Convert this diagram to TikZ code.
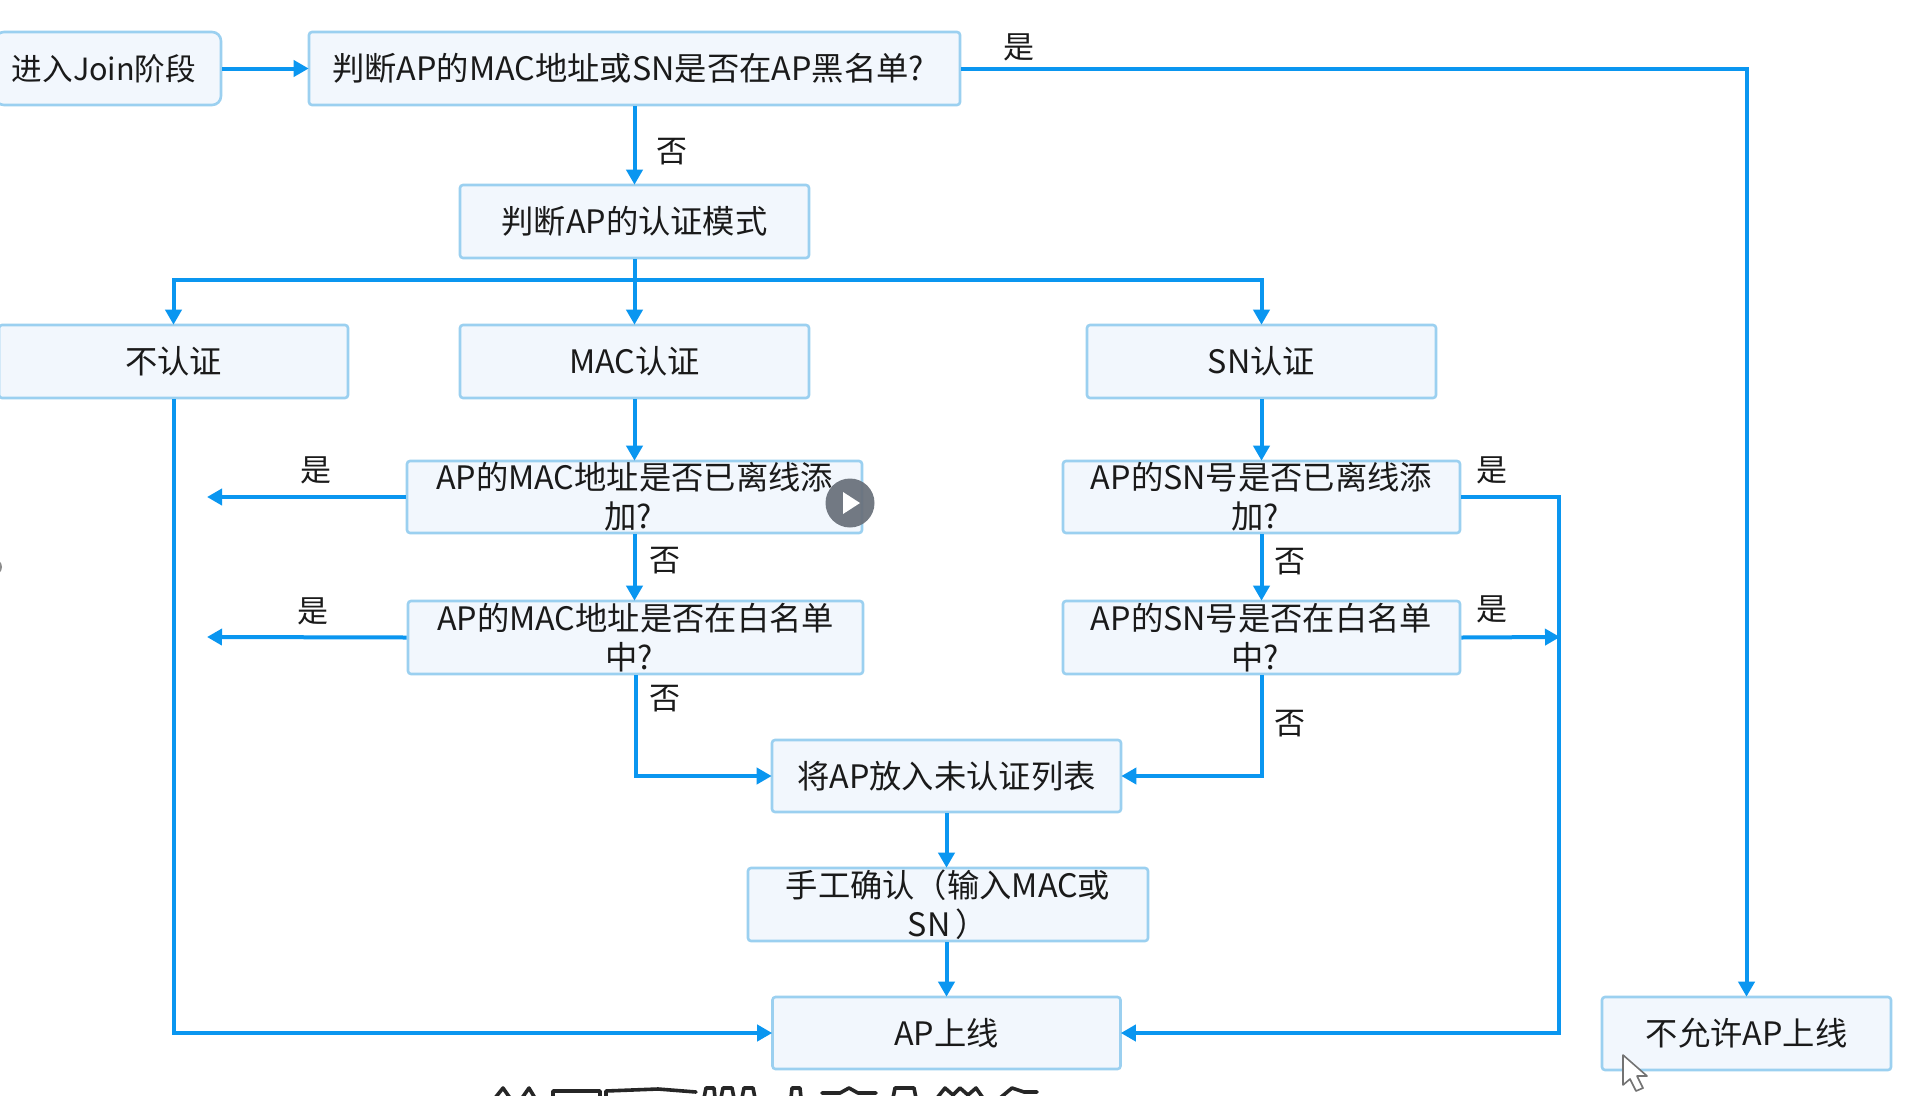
\documentclass[tikz,border=0pt]{standalone}
\usepackage{fontspec}
\setmainfont{Noto Sans CJK SC}
\usetikzlibrary{arrows.meta}
\definecolor{linec}{HTML}{0A96F0}
\definecolor{edgec}{HTML}{9BD0F0}
\definecolor{fillc}{HTML}{F2F7FD}
\definecolor{inkc}{HTML}{1A1A1A}
\definecolor{playc}{HTML}{69707A}
\newcommand{\qpad}{\hspace*{13pt}}
\tikzset{
  x=1pt,y=-1pt,
  box/.style={draw=edgec,fill=fillc,line width=2.6pt,rounded corners=3pt,inner sep=0pt,align=center,
    text=inkc,font=\fontsize{32.3}{39}\selectfont},
  joinbox/.style={box,rounded corners=9pt,font=\fontsize{30.6}{39}\selectfont},
  conn/.style={draw=linec,line width=4pt},
  arr/.style={conn,-{Triangle[length=15pt,width=16pt]},shorten >=-1pt},
  lab/.style={text=inkc,font=\fontsize{31}{36}\selectfont,inner sep=0pt},
}
\begin{document}
\begin{tikzpicture}
\path[use as bounding box] (0,0) rectangle (1911,1095);
\clip (0,0) rectangle (1911,1095);
\fill[white] (0,0) rectangle (1911,1095);
% boxes
\node[joinbox,minimum width=226pt,minimum height=73pt] (join) at (108,68.5) {进入Join阶段\hspace*{8pt}};
\node[box,minimum width=651pt,minimum height=73pt] (black) at (634.5,68.5) {判断AP的MAC地址或SN是否在AP黑名单?\qpad};
\node[box,minimum width=349pt,minimum height=73pt] (mode) at (634.5,221.5) {判断AP的认证模式};
\node[box,minimum width=349pt,minimum height=73pt] (noauth) at (173.5,361.5) {不认证};
\node[box,minimum width=349pt,minimum height=73pt] (mac) at (634.5,361.5) {MAC认证};
\node[box,minimum width=349pt,minimum height=73pt] (sn) at (1261.5,361.5) {SN认证};
\node[box,minimum width=455pt,minimum height=72pt] (mac1) at (634.5,497) {AP的MAC地址是否已离线添\\加?\qpad};
\node[box,minimum width=455pt,minimum height=73pt] (mac2) at (635.5,637.5) {AP的MAC地址是否在白名单\\中?\qpad};
\node[box,minimum width=397pt,minimum height=72pt] (sn1) at (1261.5,497) {AP的SN号是否已离线添\\加?\qpad};
\node[box,minimum width=397pt,minimum height=73pt] (sn2) at (1261.5,637.5) {AP的SN号是否在白名单\\中?\qpad};
\node[box,minimum width=349pt,minimum height=72pt] (unauth) at (946.5,776) {将AP放入未认证列表};
\node[box,minimum width=400pt,minimum height=73pt] (manual) at (948,904.5) {手工确认（输入MAC或\\SN\,）};
\node[box,minimum width=348pt,minimum height=72pt] (online) at (946.5,1033) {AP上线};
\node[box,minimum width=289pt,minimum height=73pt] (deny) at (1746.5,1033.5) {不允许AP上线};
% free ends
\coordinate (bus) at (634.5,280);
\coordinate (macyes1) at (208,497);
\coordinate (macyes2) at (208,637);
\coordinate (railtop) at (1559,497);
\coordinate (railmid) at (1559,637);
\coordinate (railbot) at (1559,1033);
% connectors
\draw[arr] (join.east) -- (black.west);
\draw[arr] (black.south) -- (mode.north);
\draw[arr] (black.east) -| (deny.north);
\draw[conn] (mode.south) -- (bus);
\draw[arr] (bus) -| (noauth.north);
\draw[arr] (bus) -- (mac.north);
\draw[arr] (bus) -| (sn.north);
\draw[arr] (mac.south) -- (mac1.north);
\draw[arr] (sn.south) -- (sn1.north);
\draw[arr] (mac1.south) -- (mac1.south |- mac2.north);
\draw[arr] (sn1.south) -- (sn2.north);
\draw[arr] (mac1.west) -- (macyes1);
\draw[arr] (mac2.west) -- (macyes2);
\draw[arr] (mac2.south) |- (unauth.west);
\draw[arr] (sn2.south) |- (unauth.east);
\draw[arr] (unauth.south) -- (unauth.south |- manual.north);
\draw[arr] (manual.south -| online.north) -- (online.north);
\draw[arr] (noauth.south) |- (online.west);
\draw[arr] (sn1.east) -- (railtop) -- (railbot) -- (online.east);
\draw[arr] (sn2.east) -- (railmid);
% labels
\node[lab] (l1) at (1019,47) {是};
\node[lab] (l2) at (672,152) {否};
\node[lab] (l3) at (316,470) {是};
\node[lab] (l4) at (665,561) {否};
\node[lab] (l5) at (313,611) {是};
\node[lab] (l6) at (665,699) {否};
\node[lab] (l7) at (1492,470) {是};
\node[lab] (l8) at (1290,562) {否};
\node[lab] (l9) at (1492,609) {是};
\node[lab] (l10) at (1290,724) {否};
% overlay marks of the video player
\fill[playc,opacity=.93] (850,503) circle (24.5);
\fill[white] (843,492) -- (860,503) -- (843,514) -- cycle;
\fill[black!45] (-6,567) circle (8);
\draw[black!55,fill=white,line width=1.6pt,line join=round] (1623,1055) -- (1623,1085) -- (1630,1079) -- (1636,1091) -- (1643,1088) -- (1637,1076) -- (1647,1076) -- cycle;
% cropped tops of the caption at the lower edge
\draw[black!85,line width=3.6pt,line cap=round,line join=round]
  (495,1098) -- (503,1088) -- (510,1098)
  (522,1098) -- (529,1088) -- (535,1098)
  (553,1098) -- (553,1091) -- (600,1091) -- (600,1098)
  (606,1098) -- (606,1091) -- (658,1089) -- (696,1092)
  (704,1098) -- (706,1088) -- (714,1088) -- (715,1098)
  (721,1098) -- (723,1088) -- (732,1088) -- (734,1098)
  (742,1098) -- (744,1088) -- (753,1088) -- (755,1098)
  (791,1098) -- (792,1088) -- (800,1088) -- (801,1098)
  (822,1093) -- (840,1093) -- (849,1088) -- (858,1093) -- (876,1093)
  (893,1098) -- (895,1088) -- (914,1088) -- (916,1098)
  (937,1098) -- (945,1088) -- (953,1095) -- (960,1088) -- (968,1095) -- (976,1088) -- (983,1098)
  (1000,1098) -- (1012,1088) -- (1024,1092) -- (1037,1092);
\end{tikzpicture}
\end{document}
